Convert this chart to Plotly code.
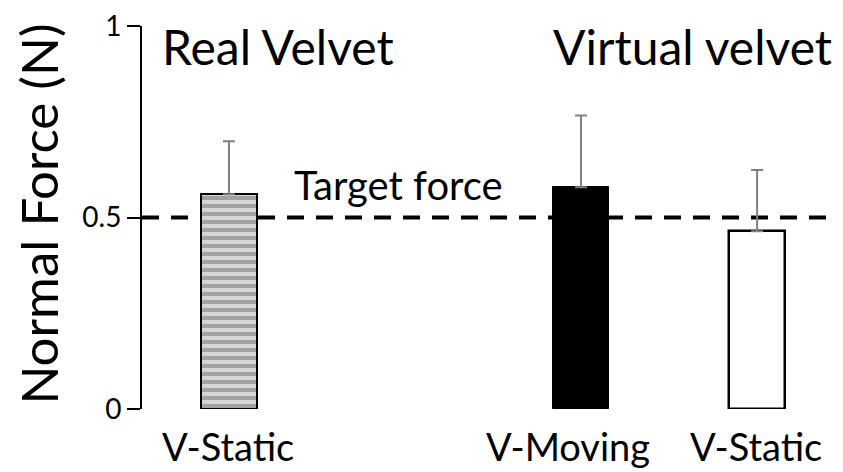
import plotly.graph_objects as go

# bar data
positions = [0, 2, 3]
labels = ['V-Static', 'V-Moving', 'V-Static']
force = [0.561, 0.579, 0.464]
force_err = [0.138, 0.187, 0.160]
target = 0.5

FONT = 'Lato'

fig = go.Figure()

styles = [
    dict(color='#d4d4d4', line=dict(color='black', width=2),
         pattern=dict(shape='-', size=8, solidity=0.5, fgcolor='#736b6b', bgcolor='#d4d4d4')),
    dict(color='black', line=dict(color='black', width=1)),
    dict(color='white', line=dict(color='black', width=2.5)),
]

for i in range(len(positions)):
    fig.add_trace(go.Bar(
        x=[positions[i]],
        y=[force[i]],
        width=0.32,
        marker=styles[i],
        error_y=dict(type='data', array=[force_err[i]], arrayminus=[0],
                     symmetric=False, color='#808080', thickness=2, width=6),
        showlegend=False,
    ))

# category labels under the bars (nudged like in the original slide)
label_shift = [-1, -13, -1]
for i in range(len(positions)):
    fig.add_annotation(text=labels[i], x=positions[i], y=0, xref='x', yref='paper',
                       xanchor='center', yanchor='top', yshift=-12, xshift=label_shift[i],
                       showarrow=False, font=dict(family=FONT, size=38, color='black'))

# target line
fig.add_shape(type='line', xref='paper', x0=0, x1=1, y0=target, y1=target,
              line=dict(color='black', width=4, dash='17px,12px'), layer='below')

fig.add_annotation(text='Target force', x=0.36, y=0.585, xref='x', yref='y',
                   xanchor='left', yanchor='middle', showarrow=False,
                   font=dict(family=FONT, size=40, color='black'))
fig.add_annotation(text='Real Velvet', x=-0.39, y=0.947, xref='x', yref='y',
                   xanchor='left', yanchor='middle', showarrow=False,
                   font=dict(family=FONT, size=48, color='black'))
fig.add_annotation(text='Virtual velvet', x=1.83, y=0.947, xref='x', yref='y',
                   xanchor='left', yanchor='middle', showarrow=False,
                   font=dict(family=FONT, size=48, color='black'))
fig.add_annotation(text='Normal Force (N)', x=-0.147, y=0.51, xref='paper', yref='paper',
                   xanchor='center', yanchor='middle', textangle=-90, showarrow=False,
                   font=dict(family=FONT, size=51, color='black'))

# page body has an 8px margin, so the figure is shifted by that
fig.update_layout(
    width=835, height=464,
    margin=dict(l=134, r=0, t=14, b=63),
    plot_bgcolor='white',
    paper_bgcolor='white',
    font=dict(family=FONT, color='black'),
    bargap=0,
    xaxis=dict(
        range=[-0.494, 3.534 - 8 / 174],
        showticklabels=False,
        showline=False, showgrid=False, zeroline=False,
        ticks='',
    ),
    yaxis=dict(
        range=[0, 1],
        tickvals=[0, 0.5, 1],
        ticktext=['0', '0.5', '1'],
        showline=True, linecolor='black', linewidth=2,
        ticks='outside', ticklen=13, tickwidth=2, tickcolor='black',
        showgrid=False, zeroline=False,
        ticklabeloverflow='allow',
        tickfont=dict(size=28, family=FONT),
    ),
)

fig.write_html('out.html')
